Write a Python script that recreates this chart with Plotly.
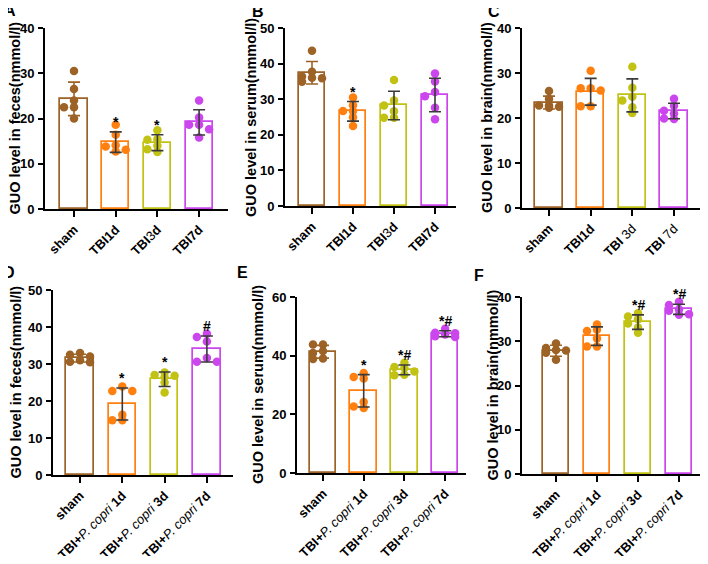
import numpy as np
import plotly.graph_objects as go

# ---------------- data ----------------
NB = '<span style="font-weight:normal">'
labels_A = ["sham", "TBI1d", "TBI" + NB + "3</span>d", "TBI7d"]
labels_B = ["sham", "TBI1d", "TBI" + NB + "3</span>d", "TBI7d"]
labels_C = ["sham", "TBI1d", "TBI" + NB + " 3d</span>", "TBI" + NB + " 7d</span>"]
labels_pc = ["sham",
             "TBI+<i>" + NB + "P. copri</span></i> 1d",
             "TBI+<i>" + NB + "P. copri</span></i> 3d",
             "TBI+<i>" + NB + "P. copri</span></i> 7d"]

feces_tbi = [[30.5, 26.5, 24.0, 22.5, 22.5, 20.0],
             [18.6, 16.4, 14.1, 13.8, 13.1, 12.7],
             [17.4, 15.4, 15.3, 14.0, 13.2, 12.6],
             [24.0, 20.2, 18.6, 18.6, 17.6, 15.8]]
serum_tbi = [[43.6, 37.7, 36.4, 36.0, 35.9, 34.9],
             [30.5, 28.3, 26.7, 26.7, 24.9, 22.5],
             [35.4, 29.6, 28.2, 26.6, 24.8, 24.8],
             [37.2, 35.0, 32.0, 30.8, 27.6, 24.4]]
brain_tbi = [[26.0, 24.2, 22.8, 22.8, 22.5, 22.3],
             [30.5, 26.6, 26.6, 26.1, 22.6, 22.6],
             [31.4, 26.7, 24.7, 23.9, 22.4, 21.1],
             [24.3, 22.7, 21.6, 21.0, 19.8, 19.9]]
feces_pc = [[33.0, 32.5, 32.0, 31.0, 30.6, 30.5],
            [23.9, 22.7, 22.7, 16.3, 14.8, 14.8],
            [27.7, 27.0, 26.8, 26.5, 25.0, 22.3],
            [38.2, 37.3, 36.1, 31.6, 30.6, 30.6]]
serum_pc = [[43.8, 43.8, 41.6, 40.9, 39.0, 38.9],
            [34.1, 32.7, 32.2, 24.2, 22.7, 22.2],
            [37.6, 36.1, 35.8, 34.6, 33.5, 33.3],
            [49.2, 47.8, 47.6, 47.2, 46.6, 46.4]]
brain_pc = [[29.5, 28.5, 28.0, 27.9, 27.4, 25.8],
            [33.8, 32.6, 32.3, 30.6, 28.8, 28.8],
            [36.3, 35.6, 35.0, 34.0, 33.1, 31.9],
            [38.9, 38.2, 37.2, 36.9, 36.1, 36.0]]

marks_A = ["", "*", "*", ""]
marks_B = ["", "*", "", ""]
marks_C = ["", "", "", ""]
marks_D = ["", "*", "*", "#"]
marks_E = ["", "*", "*#", "*#"]
marks_F = ["", "", "*#", "*#"]

titles = ["GUO level in feces(nmmol/l)", "GUO level in serum(nmmol/l)",
          "GUO level in brain(nmmol/l)", "GUO level in feces(nmmol/l)",
          "GUO level in serum(nmmol/l)", "GUO level in brain(nmmol/l)"]
letters = ["A", "B", "C", "D", "E", "F"]

# ---------------- styles / layout ----------------
colors = ["#9C6226", "#FF7F0F", "#C2C214", "#CC46EE"]
err_colors = ["#9C6226", "#3a3a3a", "#3a3a3a", "#3a3a3a"]
OFF = 8                       # default page body margin around the plot div
W, H = 708 - 2 * OFF, 564 - 2 * OFF
FONT = "Liberation Sans"

# geometry in window pixels
panels = [
    dict(data=feces_tbi, labels=labels_A, marks=marks_A, xl=45, xr=228, c0=74, step=41.7,
         yb=209, yt=28, ymax=40, dt=10, tx=15, lx=10, ly=10),
    dict(data=serum_tbi, labels=labels_B, marks=marks_B, xl=285, xr=456, c0=312, step=41.0,
         yb=206, yt=28, ymax=50, dt=10, tx=251, lx=258, ly=11),
    dict(data=brain_tbi, labels=labels_C, marks=marks_C, xl=522, xr=700, c0=549, step=41.67,
         yb=208, yt=28, ymax=40, dt=10, tx=487, lx=494, ly=12),
    dict(data=feces_pc, labels=labels_pc, marks=marks_D, xl=53, xr=233, c0=80, step=42.3,
         yb=475, yt=290, ymax=50, dt=10, tx=15, lx=9, ly=272),
    dict(data=serum_pc, labels=labels_pc, marks=marks_E, xl=297, xr=466, c0=323, step=40.7,
         yb=473, yt=297, ymax=60, dt=20, tx=258, lx=242, ly=273),
    dict(data=brain_pc, labels=labels_pc, marks=marks_F, xl=522, xr=700, c0=556, step=41.0,
         yb=474, yt=297, ymax=40, dt=10, tx=492, lx=479, ly=275),
]


def px(x):
    return min(1.0, max(0.0, (x - OFF) / W))


def py(y):
    return min(1.0, max(0.0, 1 - (y - OFF) / H))


DOT = 8.5     # marker diameter px
COL = 10      # column spacing px
THR = 5       # allowed centre distance px (partial overlap allowed)


def swarm(vals, sy, sx):
    """simple beeswarm: horizontal offsets (category units), three columns"""
    placed = []
    offs = []
    cand = [0, -1, 1]
    for v in vals:
        ypx = v * sy
        best, bestd = 0, -1
        chosen = None
        for c in cand:
            ox = c * COL
            d = min([np.hypot(ox - a, ypx - b) for a, b in placed] or [99])
            if d >= THR:
                chosen = ox
                break
            if d > bestd:
                best, bestd = ox, d
        if chosen is None:
            chosen = best
        placed.append((chosen, ypx))
        offs.append(chosen / sx)
    return offs


fig = go.Figure()
layout = dict(width=W, height=H, margin=dict(l=0, r=0, t=0, b=0, autoexpand=False),
              plot_bgcolor="white", paper_bgcolor="white", showlegend=False,
              font=dict(family=FONT, color="#000"), bargap=0)
annotations = []

for k, p in enumerate(panels):
    n = k + 1
    xa = "x" if n == 1 else f"x{n}"
    ya = "y" if n == 1 else f"y{n}"
    xr0 = (p["xl"] - p["c0"]) / p["step"]
    xr1 = (p["xr"] - p["c0"]) / p["step"]
    sy = (p["yb"] - p["yt"]) / p["ymax"]
    sx = p["step"]
    means = [float(np.mean(g)) for g in p["data"]]
    sds = [float(np.std(g, ddof=1)) for g in p["data"]]
    xs = list(range(len(p["data"])))

    fig.add_trace(go.Bar(x=xs, y=means, width=0.65, xaxis=xa, yaxis=ya,
                         marker=dict(color="white",
                                     line=dict(color=colors, width=1.7)),
                         hoverinfo="skip"))
    for i, g in enumerate(p["data"]):
        offs = swarm(g, sy, sx)
        fig.add_trace(go.Scatter(x=[i + o for o in offs], y=g, mode="markers",
                                 xaxis=xa, yaxis=ya,
                                 marker=dict(size=DOT, color=colors[i], line=dict(width=0))))
        fig.add_trace(go.Scatter(x=[i], y=[means[i]], mode="markers", xaxis=xa, yaxis=ya,
                                 marker=dict(size=1, color="rgba(0,0,0,0)"),
                                 error_y=dict(type="data", array=[sds[i]], visible=True,
                                              width=6, thickness=1.6, color=err_colors[i])))
        if p["marks"][i]:
            annotations.append(dict(x=i, y=means[i] + sds[i], xref=xa, yref=ya,
                                    text="<b>" + p["marks"][i] + "</b>", showarrow=False,
                                    yanchor="bottom", yshift=0,
                                    font=dict(size=14, family=FONT, color="#000")))

    yticks = list(range(0, p["ymax"] + 1, p["dt"]))
    axkey = "xaxis" if n == 1 else f"xaxis{n}"
    aykey = "yaxis" if n == 1 else f"yaxis{n}"
    tf = dict(size=13, family=FONT, color="#000")
    layout[axkey] = dict(domain=[px(p["xl"]), px(p["xr"])], range=[xr0, xr1],
                         anchor=ya, showline=True, linecolor="#000", linewidth=2,
                         showgrid=False, zeroline=False, ticks="outside", ticklen=6,
                         tickwidth=2, tickcolor="#000", tickvals=xs,
                         ticktext=["<b>" + t + "</b>" for t in p["labels"]],
                         tickangle=-45, tickfont=tf, fixedrange=True, automargin=False)
    layout[aykey] = dict(domain=[py(p["yb"]), py(p["yt"])], range=[0, p["ymax"]],
                         anchor=xa, showline=True, linecolor="#000", linewidth=2,
                         showgrid=False, zeroline=False, ticks="outside", ticklen=5,
                         tickwidth=2, tickcolor="#000", tickvals=yticks,
                         ticktext=["<b>%d</b>" % t for t in yticks],
                         tickfont=tf, ticklabelstandoff=1, fixedrange=True, automargin=False)
    annotations.append(dict(x=px(p["tx"]), y=py((p["yb"] + p["yt"]) / 2),
                            xref="paper", yref="paper", text="<b>" + titles[k] + "</b>",
                            textangle=-90, showarrow=False, xanchor="center", yanchor="middle",
                            font=dict(size=14.5, family=FONT, color="#000")))
    annotations.append(dict(x=px(p["lx"]), y=py(p["ly"]), xref="paper", yref="paper",
                            text="<b>" + letters[k] + "</b>", showarrow=False,
                            xanchor="center", yanchor="middle",
                            font=dict(size=16, family=FONT, color="#000")))

layout["annotations"] = annotations
fig.update_layout(**layout)
fig.write_html("out.html")
